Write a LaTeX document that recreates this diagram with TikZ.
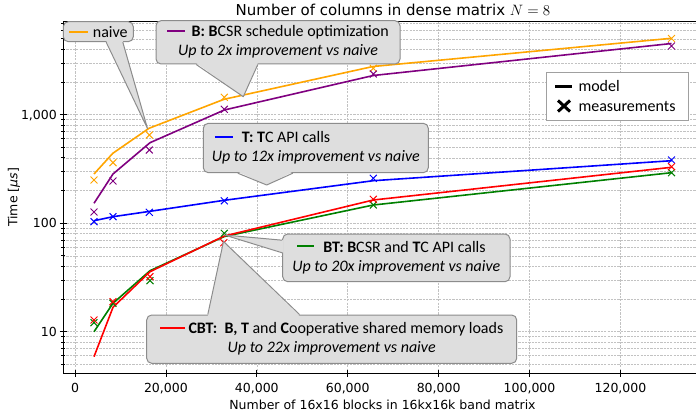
\RequirePackage{fix-cm}
\documentclass[tikz,border=0pt]{standalone}
\usepackage{fontspec}
\setmainfont{Carlito}
\newfontfamily\dvsfont{DejaVu Sans}
\usetikzlibrary{calc}

\definecolor{cOrange}{HTML}{FFA500}
\definecolor{cPurple}{HTML}{800080}
\definecolor{cBlue}{HTML}{0000FF}
\definecolor{cGreen}{HTML}{008000}
\definecolor{cRed}{HTML}{FF0000}
\definecolor{calloutfill}{HTML}{DEDEDE}
\definecolor{calloutedge}{HTML}{8C8C8C}
\definecolor{gridgray}{HTML}{C2C2C2}
\definecolor{legendedge}{HTML}{A0A0A0}

% two-line callout text: first line flush left, second line centred and italic
\newcommand\callouttext[2]{\begin{tabular}{@{}l@{}}#1\\\multicolumn{1}{@{}c@{}}{\itshape #2}\end{tabular}}
\newcommand\keydash[2]{\textcolor{#1}{\rule[4.6pt]{#2}{2pt}}}

\begin{document}
\begin{tikzpicture}[x=1pt,y=-1pt,
  gridln/.style={draw=gridgray, line width=0.6pt, dash pattern=on 2.2pt off 1.1pt},
  spine/.style={line width=1pt, black},
  tickmark/.style={line width=0.8pt, black},
  model/.style={line width=1.6pt, line join=round},
  meas/.style={only marks, mark=x, mark size=4.9pt, mark options={line width=1pt}},
  callout/.style={fill=calloutfill, draw=calloutedge, line width=1pt, rounded corners=5pt,
                  inner sep=0pt, font=\fontsize{16}{19.5}\selectfont},
  calloutside/.style={draw=calloutedge, line width=1pt, line join=round},
  ticklabel/.style={font=\dvsfont\fontsize{12.5}{15}\selectfont, inner sep=0pt},
  legendtext/.style={font=\fontsize{16}{19.5}\selectfont, inner sep=0pt, anchor=base west},
]
\useasboundingbox (0,0) rectangle (696,412);
\fill[white] (0,0) rectangle (696,412);

% ---------- grid ----------
\foreach \k in {0,...,6} {
  \pgfmathsetmacro\gx{75+90.91*\k}
  \draw[gridln] (\gx,22) -- (\gx,373);
}
\foreach \v in {5,6,7,8,9,10,20,30,40,50,60,70,80,90,100,200,300,400,500,600,700,800,900,1000,2000,3000,4000,5000,6000,7000} {
  \pgfmathsetmacro\gy{440.2-47.121*ln(\v)}
  \draw[gridln] (63,\gy) -- (696,\gy);
}

% ---------- model curves ----------
\draw[cOrange, model] plot coordinates {(94,174) (112.8,153.3) (149,128.3) (224,99.3) (373,66.5) (671.3,38.3)};
\draw[cPurple, model] plot coordinates {(94,203.3) (113,174) (150,142.7) (224.3,110) (373.3,75.5) (671.5,43.5)};
\draw[cBlue, model] plot coordinates {(94,220.7) (113,216.7) (150,211.3) (224.3,200.3) (373.3,180.7) (671.5,160.7)};
\draw[cGreen, model] plot coordinates {(94,331.7) (113,303.3) (150,270.7) (224.3,236.5) (373.3,205) (671.5,172.7)};
\draw[cRed, model] plot coordinates {(94,356.7) (113,307.3) (150,271.7) (224.3,236) (373.3,200) (671.5,167.3)};

% ---------- measurements ----------
\draw[cOrange, meas] plot coordinates {(94,180) (113,162.7) (149.3,135) (224.3,97.3) (373.3,68.3) (671.5,38.5)};
\draw[cPurple, meas] plot coordinates {(94,212) (113,181) (149.3,150) (224.3,109.3) (373.3,74) (671.5,46)};
\draw[cBlue, meas] plot coordinates {(94,221.7) (113,216.7) (149.3,212.3) (224.3,200.8) (373.3,178.3) (671.5,160)};
\draw[cGreen, meas] plot coordinates {(94,322.7) (113,303.3) (150,280.7) (224.3,233.3) (373.3,205) (671.5,172.7)};
\draw[cRed, meas] plot coordinates {(94,320) (113,301.7) (150,276.7) (223.8,242.7) (373.3,199.3) (671.5,166.7)};

% ---------- axes ----------
\draw[spine] (63,22) -- (697,22);
\draw[spine] (63,22) -- (63,373) -- (697,373);
\foreach \k/\lab in {0/0,1/{20,000},2/{40,000},3/{60,000},4/{80,000},5/{100,000},6/{120,000}} {
  \pgfmathsetmacro\gx{75+90.91*\k}
  \draw[tickmark] (\gx,369.5) -- (\gx,376.5);
  \node[ticklabel, anchor=base] (xt\k) at (\gx,392.5) {\lab};
}
\foreach \v in {5,6,7,8,9,20,30,40,50,60,70,80,90,200,300,400,500,600,700,800,900,2000,3000,4000,5000,6000,7000} {
  \pgfmathsetmacro\gy{440.2-47.121*ln(\v)}
  \draw[tickmark] (61,\gy) -- (65,\gy);
}
\foreach \v/\lab in {10/10,100/100,1000/{1,000}} {
  \pgfmathsetmacro\gy{440.2-47.121*ln(\v)}
  \draw[tickmark] (59.5,\gy) -- (66.5,\gy);
  \node[ticklabel, anchor=base east] (yt\v) at (57,\gy+4.4) {\lab};
}
\node[ticklabel, anchor=base] (xlabel) at (382.5,409.5) {Number of 16x16 blocks in 16kx16k band matrix};
\node[ticklabel, rotate=90] (ylabel) at (14,197.5) {Time [{\itshape µs}]};
\node[inner sep=0pt, anchor=base, font=\dvsfont\fontsize{15}{18}\selectfont] (title) at (393,15.5)
  {Number of columns in dense matrix $N = 8$};

% ---------- callouts ----------
\coordinate (naiveTip) at (147.5,128.5);
\coordinate (bTip) at (243.3,96.7);
\coordinate (tTip) at (266.7,185);
\coordinate (btTip) at (224.5,235);
\coordinate (cbtTip) at (223.5,241.5);

% naive
\node[callout, minimum width=70pt, minimum height=20pt] (naivebox) at (98.3,31.7)
  {\keydash{cOrange}{19pt}\hspace{5pt}naive};
\fill[calloutfill] ($(naivebox.south west)+(43.4,-1.5)$) -- (naiveTip) -- ($(naivebox.south west)+(60,-1.5)$) -- cycle;
\draw[calloutside] ($(naivebox.south west)+(43.4,0)$) -- (naiveTip) -- ($(naivebox.south west)+(60,0)$);

% B
\node[callout, minimum width=244pt, minimum height=43.3pt] (bbox) at (278,42.35)
  {\callouttext{\keydash{cPurple}{18pt}\hspace{6.5pt}\textbf{B: B}CSR schedule optimization}{Up to 2x improvement vs naive}};
\fill[calloutfill] ($(bbox.south west)+(40.7,-1.5)$) -- (bTip) -- ($(bbox.south west)+(102.3,-1.5)$) -- cycle;
\draw[calloutside] ($(bbox.south west)+(40.7,0)$) -- (bTip) -- ($(bbox.south west)+(102.3,0)$);

% T
\node[callout, minimum width=225pt, minimum height=49.4pt] (tbox) at (315.8,148)
  {\callouttext{\hspace{3pt}\keydash{cBlue}{18pt}\hspace{9pt}\textbf{T: T}C API calls}{Up to 12x improvement vs naive}};
\fill[calloutfill] ($(tbox.south west)+(35,-1.5)$) -- (tTip) -- ($(tbox.south west)+(90,-1.5)$) -- cycle;
\draw[calloutside] ($(tbox.south west)+(35,0)$) -- (tTip) -- ($(tbox.south west)+(90,0)$);

% BT
\node[callout, minimum width=227.3pt, minimum height=47.7pt] (btbox) at (396.35,257.85)
  {\callouttext{\hspace{5pt}\keydash{cGreen}{17pt}\hspace{9pt}\textbf{BT: B}CSR and \textbf{T}C API calls}{Up to 20x improvement vs naive}};
\fill[calloutfill] ($(btbox.north west)+(1.5,6.7)$) -- (btTip) -- ($(btbox.north west)+(1.5,19.3)$) -- cycle;
\draw[calloutside] ($(btbox.north west)+(0,6.7)$) -- (btTip) -- ($(btbox.north west)+(0,19.3)$);

% CBT
\node[callout, minimum width=370pt, minimum height=48.3pt] (cbtbox) at (331.7,339.15)
  {\callouttext{\keydash{cRed}{25pt}\hspace{3.4pt}\textbf{CBT:}\ \ \textbf{B, T} and \textbf{C}ooperative shared memory loads}{Up to 22x improvement vs naive}};
\fill[calloutfill] ($(cbtbox.north west)+(61.6,1.5)$) -- (cbtTip) -- ($(cbtbox.north west)+(153.3,1.5)$) -- cycle;
\draw[calloutside] ($(cbtbox.north west)+(61.6,0)$) -- (cbtTip) -- ($(cbtbox.north west)+(153.3,0)$);

% ---------- legend ----------
\node[fill=white, draw=legendedge, line width=1pt, minimum width=141.6pt, minimum height=48pt, inner sep=0pt]
  (legend) at (617.5,96.7) {};
\draw[line width=3pt, black] (555,86) -- (571.7,86);
\node[legendtext] (lgModel) at (578.3,91.5) {model};
\draw[line width=3pt, black] (558,100.5) -- (570,111.5) (558,111.5) -- (570,100.5);
\node[legendtext] (lgMeas) at (578.3,111.5) {measurements};
\end{tikzpicture}
\end{document}
